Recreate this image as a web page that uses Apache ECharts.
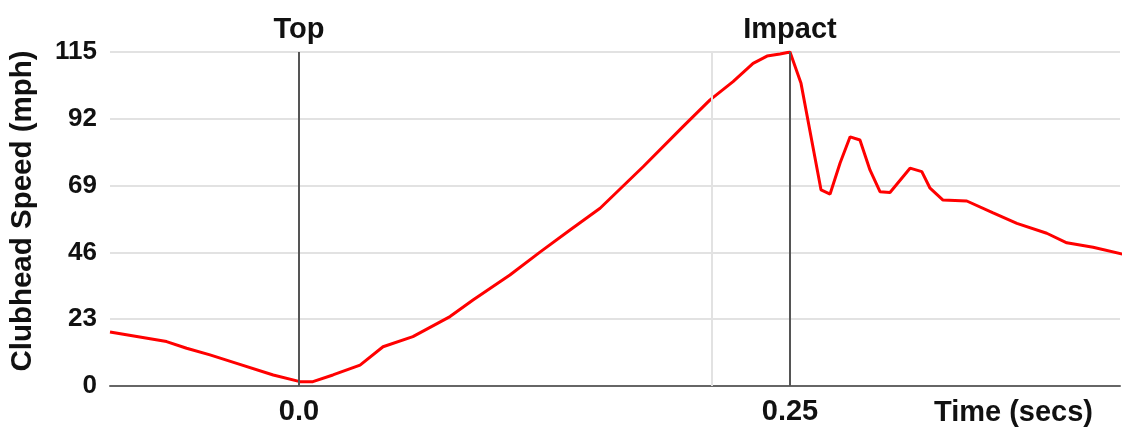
<!DOCTYPE html>
<html>
<head>
<meta charset="utf-8">
<script src="https://cdn.jsdelivr.net/npm/echarts@6/dist/echarts.min.js"></script>
<style>
html,body{margin:0;padding:0;background:#fff;}
#chart{width:1123px;height:431px;}
</style>
</head>
<body>
<div id="chart"></div>
<script>
// Time (secs)
var times = [-0.0962, -0.0674, -0.0572, -0.0453, -0.0317, -0.0131, 0.0005, 0.0071, 0.0173, 0.0311,
  0.0428, 0.0580, 0.0769, 0.0886, 0.1074, 0.1227, 0.1380, 0.1533, 0.1752, 0.1955,
  0.2093, 0.2210, 0.2312, 0.2383, 0.2449, 0.2500, 0.2556, 0.2658, 0.2704, 0.2755,
  0.2806, 0.2856, 0.2907, 0.2958, 0.3009, 0.3111, 0.3171, 0.3213, 0.3279, 0.3400,
  0.3534, 0.3655, 0.3807, 0.3909, 0.4043, 0.4194];
// Clubhead speed (mph)
var speeds = [18.6, 15.3, 13.0, 10.7, 7.8, 3.8, 1.5, 1.5, 3.8, 7.2,
  13.5, 17.0, 23.9, 29.6, 38.2, 46.1, 53.7, 61.2, 75.5, 89.3,
  98.5, 104.8, 111.1, 113.6, 114.3, 115.0, 104.2, 67.5, 66.1, 76.8,
  85.8, 84.7, 74.4, 66.9, 66.6, 75.0, 73.8, 68.1, 64.0, 63.7,
  59.6, 56.0, 52.6, 49.3, 47.8, 45.4];
// Event markers
var eventTimes = [0, 0.25];
var eventNames = ['Top', 'Impact'];
// Axis ticks
var xTickValues = [0, 0.25];
var xTickLabels = ['0.0', '0.25'];
var yTicks = [0, 23, 46, 69, 92, 115];
var xGridValues = [0.2088];
var xRange = [-0.0962, 0.4180];

var FONT = '"Liberation Sans", Arial, sans-serif';
var data = times.map(function (t, i) { return [t, speeds[i]]; });

var markData = [];
xGridValues.forEach(function (v) {
  markData.push({ xAxis: v, lineStyle: { color: '#e2e2e2', width: 2, type: 'solid' }, label: { show: false } });
});
eventTimes.forEach(function (v, i) {
  markData.push({ xAxis: v, lineStyle: { color: '#555', width: 2, type: 'solid' },
    label: { show: true, position: 'end', formatter: eventNames[i], fontSize: 29, fontWeight: 'bold', color: '#111', fontFamily: FONT, distance: 8 } });
});

var chart = echarts.init(document.getElementById('chart'));
chart.setOption({
  animation: false,
  backgroundColor: '#fff',
  grid: { left: 110, right: 3, top: 52, bottom: 45, containLabel: false },
  xAxis: {
    type: 'value',
    min: xRange[0], max: xRange[1],
    name: 'Time (secs)',
    nameLocation: 'end',
    nameGap: -27,
    nameTextStyle: { fontSize: 29, fontWeight: 'bold', color: '#111', fontFamily: FONT, align: 'right', verticalAlign: 'top', padding: [12, 0, 0, 0] },
    axisLine: { show: true, lineStyle: { color: '#666', width: 2 } },
    axisTick: { show: false },
    splitLine: { show: false },
    axisLabel: {
      customValues: xTickValues,
      fontSize: 29, fontWeight: 'bold', color: '#111', fontFamily: FONT, margin: 11,
      formatter: function (v) {
        for (var i = 0; i < xTickValues.length; i++) {
          if (Math.abs(v - xTickValues[i]) < 1e-9) return xTickLabels[i];
        }
        return '';
      }
    }
  },
  yAxis: {
    type: 'value',
    min: yTicks[0], max: yTicks[yTicks.length - 1], interval: yTicks[1] - yTicks[0],
    name: 'Clubhead Speed (mph)',
    nameLocation: 'middle',
    nameRotate: 90,
    nameGap: 72,
    nameTextStyle: { fontSize: 29.5, fontWeight: 'bold', color: '#111', fontFamily: FONT, padding: [0, 0, 0, 16] },
    axisLine: { show: false },
    axisTick: { show: false },
    axisLabel: { fontSize: 26, fontWeight: 'bold', color: '#111', fontFamily: FONT, margin: 13 },
    splitLine: { show: true, lineStyle: { color: '#e2e2e2', width: 2 } }
  },
  series: [{
    type: 'line',
    data: data,
    showSymbol: false,
    smooth: false,
    lineStyle: { color: '#ff0000', width: 3 },
    z: 3,
    markLine: {
      silent: true,
      symbol: ['none', 'none'],
      animation: false,
      data: markData
    }
  }]
});
</script>
</body>
</html>
